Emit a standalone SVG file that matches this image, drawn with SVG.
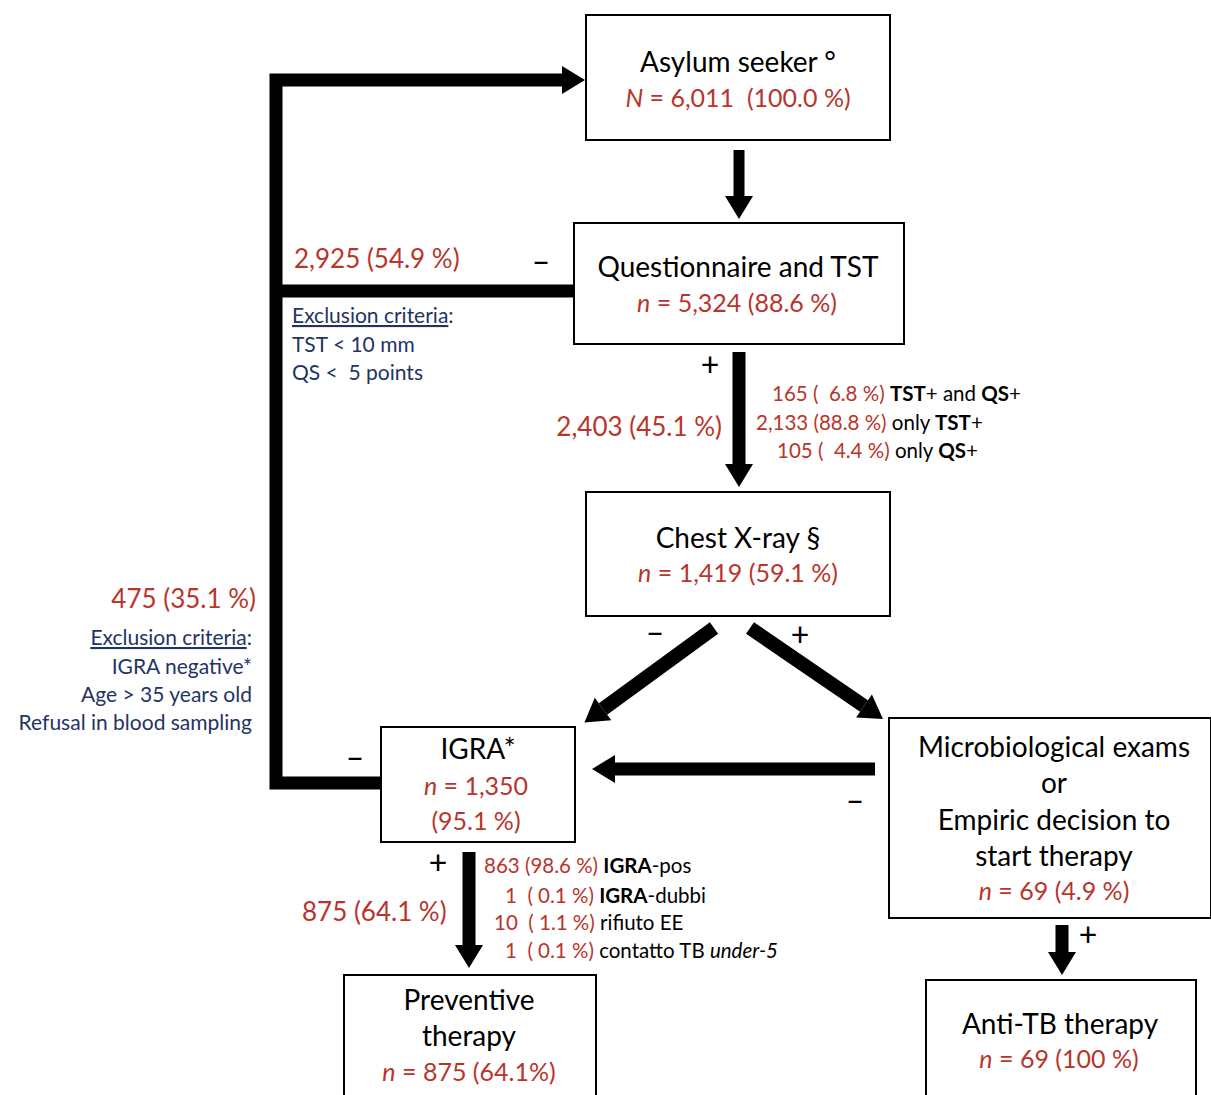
<svg xmlns="http://www.w3.org/2000/svg" width="1211" height="1095" viewBox="0 0 1211 1095">
<style>
text{font-family:Lato,"Open Sans","Liberation Sans",sans-serif;white-space:pre;}
.box{fill:#fff;stroke:#000;stroke-width:2;}
.t{font-size:28px;fill:#000;text-anchor:middle;}
.r{font-size:25px;fill:#b8352c;text-anchor:middle;}
.rl{font-size:26px;fill:#b8352c;}
.s{font-size:20.5px;fill:#000;}
.sr{fill:#b8352c;}
.b{font-weight:bold;}
.bl{font-size:21px;fill:#1f3464;}
.sign{font-size:32px;fill:#000;text-anchor:middle;}
.c{fill:none;stroke:#000;stroke-width:13;stroke-linejoin:miter;}
</style>
<defs>
<marker id="ah" markerUnits="userSpaceOnUse" markerWidth="30" markerHeight="30" refX="0" refY="0" viewBox="0 -15 24 30" orient="auto" overflow="visible">
<path d="M0,-14 L23,0 L0,14 z" fill="#000"/>
</marker>
</defs>
<g id="connectors">
<path class="c" d="M381,783 L276,783 L276,80 L562,80" marker-end="url(#ah)"/>
<path class="c" d="M574,291 L276,291"/>
<path class="c" d="M739,150 L739,196" style="stroke-width:11" marker-end="url(#ah)"/>
<path class="c" d="M739,352 L739,464" marker-end="url(#ah)"/>
<path class="c" d="M714,628 L603,709" style="stroke-width:14" marker-end="url(#ah)"/>
<path class="c" d="M750,628 L864,706" style="stroke-width:14" marker-end="url(#ah)"/>
<path class="c" d="M875,769 L615,769" marker-end="url(#ah)"/>
<path class="c" d="M469,852 L469,945" marker-end="url(#ah)"/>
<path class="c" d="M1062,925 L1062,952" marker-end="url(#ah)"/>
</g>
<g id="asylum">
<rect class="box" x="586" y="15" width="304" height="125"/>
<text class="t" x="738" y="72">Asylum seeker °</text>
<text class="r" x="738" y="107"><tspan font-style="italic">N</tspan> = 6,011  (100.0 %)</text>
</g>
<g id="questionnaire">
<rect class="box" x="574" y="223" width="330" height="121"/>
<text class="t" x="738" y="277">Questionnaire and TST</text>
<text class="r" x="737" y="312"><tspan font-style="italic">n</tspan> = 5,324 (88.6 %)</text>
</g>
<g id="chest">
<rect class="box" x="586" y="492" width="304" height="124"/>
<text class="t" x="738" y="548">Chest X-ray §</text>
<text class="r" x="738" y="582"><tspan font-style="italic">n</tspan> = 1,419 (59.1 %)</text>
</g>
<g id="igra">
<rect class="box" x="381" y="727" width="194" height="115"/>
<text class="t" x="478" y="759">IGRA*</text>
<text class="r" x="476" y="795"><tspan font-style="italic">n</tspan> = 1,350</text>
<text class="r" x="476" y="830">(95.1 %)</text>
</g>
<g id="micro">
<rect class="box" x="889" y="718" width="322" height="200"/>
<text class="t" x="1054" y="757">Microbiological exams</text>
<text class="t" x="1054" y="793">or</text>
<text class="t" x="1054" y="830">Empiric decision to</text>
<text class="t" x="1054" y="866">start therapy</text>
<text class="r" x="1054" y="900"><tspan font-style="italic">n</tspan> = 69 (4.9 %)</text>
</g>
<g id="preventive">
<rect class="box" x="344" y="975" width="252" height="130"/>
<text class="t" x="469" y="1010">Preventive</text>
<text class="t" x="469" y="1046">therapy</text>
<text class="r" x="469" y="1081"><tspan font-style="italic">n</tspan> = 875 (64.1%)</text>
</g>
<g id="antitb">
<rect class="box" x="926" y="980" width="270" height="125"/>
<text class="t" x="1060" y="1034">Anti-TB therapy</text>
<text class="r" x="1059" y="1068"><tspan font-style="italic">n</tspan> = 69 (100 %)</text>
</g>
<g id="labels">
<text class="rl" x="294" y="268">2,925 (54.9 %)</text>
<text class="sign" x="541" y="273">–</text>
<text class="bl" x="292" y="323"><tspan text-decoration="underline">Exclusion criteria</tspan>:</text>
<text class="bl" x="292" y="352">TST &lt; 10 mm</text>
<text class="bl" x="292" y="380">QS &lt;  5 points</text>
<text class="sign" x="710" y="376">+</text>
<text class="rl" x="722" y="436" text-anchor="end">2,403 (45.1 %)</text>
<text class="s" x="772" y="401"><tspan class="sr">165 (  6.8 %)</tspan> <tspan class="b">TST</tspan>+ and <tspan class="b">QS</tspan>+</text>
<text class="s" x="756" y="430"><tspan class="sr">2,133 (88.8 %)</tspan> only <tspan class="b">TST</tspan>+</text>
<text class="s" x="777" y="458"><tspan class="sr">105 (  4.4 %)</tspan> only <tspan class="b">QS</tspan>+</text>
<text class="sign" x="655" y="644">–</text>
<text class="sign" x="800" y="646">+</text>
<text class="rl" x="256" y="608" text-anchor="end">475 (35.1 %)</text>
<text class="bl" x="252" y="645" text-anchor="end"><tspan text-decoration="underline">Exclusion criteria</tspan>:</text>
<text class="bl" x="252" y="674" text-anchor="end">IGRA negative*</text>
<text class="bl" x="252" y="702" text-anchor="end">Age &gt; 35 years old</text>
<text class="bl" x="252" y="730" text-anchor="end">Refusal in blood sampling</text>
<text class="sign" x="355" y="769">–</text>
<text class="sign" x="855" y="812">–</text>
<text class="sign" x="438" y="874">+</text>
<text class="rl" x="302" y="921">875 (64.1 %)</text>
<text class="s" x="484" y="873"><tspan class="sr">863 (98.6 %)</tspan> <tspan class="b">IGRA</tspan>-pos</text>
<text class="s" x="505" y="903"><tspan class="sr">1  ( 0.1 %)</tspan> <tspan class="b">IGRA</tspan>-dubbi</text>
<text class="s" x="494" y="930"><tspan class="sr">10  ( 1.1 %)</tspan> rifiuto EE</text>
<text class="s" x="505" y="958"><tspan class="sr">1  ( 0.1 %)</tspan> contatto TB <tspan font-style="italic">under-5</tspan></text>
<text class="sign" x="1088" y="946">+</text>
</g>
</svg>
